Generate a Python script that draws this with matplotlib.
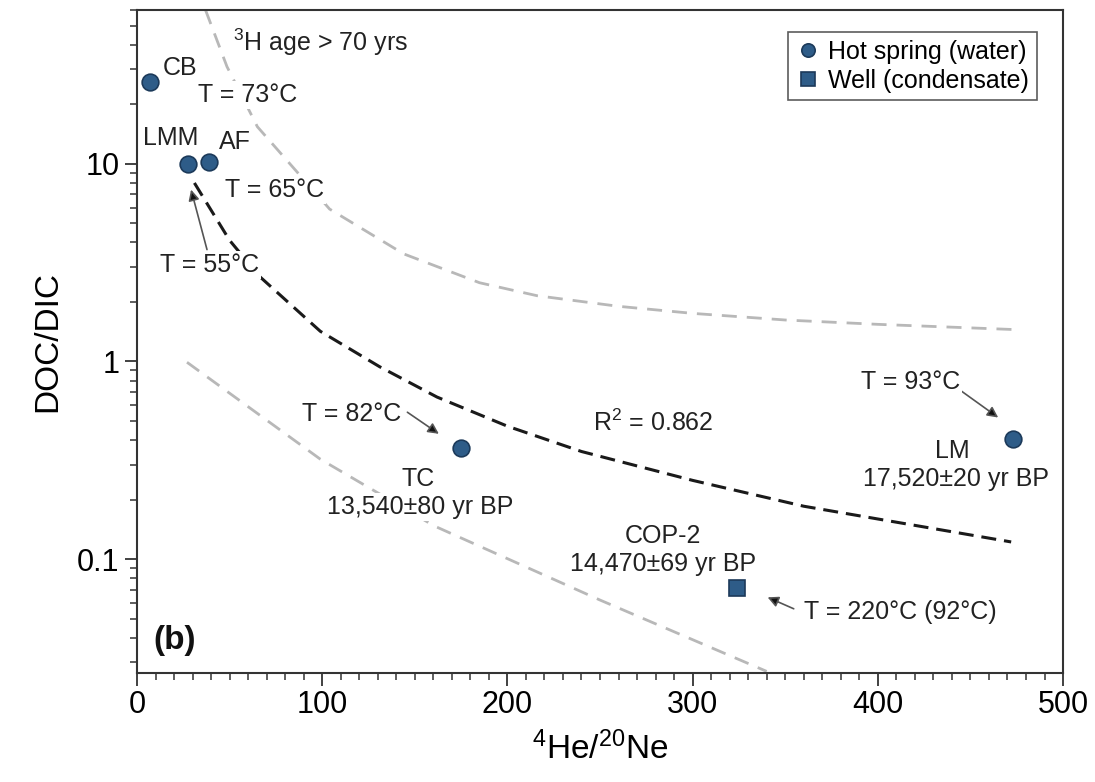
import matplotlib
matplotlib.use('Agg')
import matplotlib.pyplot as plt

plt.rcParams['font.family'] = ['Liberation Sans', 'DejaVu Sans']
plt.rcParams['mathtext.fontset'] = 'custom'
plt.rcParams['mathtext.rm'] = 'Liberation Sans'
plt.rcParams['mathtext.it'] = 'Liberation Sans:italic'

# samples (4He/20Ne, DOC/DIC)
spring_names = ["CB", "LMM", "AF", "TC", "LM"]
spring_he_ne = [7, 27.5, 39, 175, 473]
spring_doc_dic = [25.9, 10.0, 10.2, 0.365, 0.405]

well_names = ["COP-2"]
well_he_ne = [324]
well_doc_dic = [0.071]

# regression curve
fit_x = [31, 50, 66, 99, 131, 162, 200, 240, 300, 360, 420, 472]
fit_y = [8.0, 4.1, 2.7, 1.42, 0.94, 0.66, 0.47, 0.35, 0.25, 0.185, 0.148, 0.122]

# upper / lower gray bounds
upper_x = [37, 48.6, 65, 104, 144, 185, 216, 260, 300, 350, 400, 473]
upper_y = [60, 31, 15.4, 5.9, 3.5, 2.5, 2.15, 1.9, 1.75, 1.62, 1.54, 1.45]
lower_x = [27, 99, 160.5, 250, 340]
lower_y = [0.99, 0.32, 0.147, 0.062, 0.027]

blue = '#2e5c88'
edge = '#1c3a5a'

fig = plt.figure(figsize=(10.95, 7.82), dpi=100)
ax = fig.add_axes([0.1251, 0.1394, 0.8457, 0.8478])

ax.plot(upper_x, upper_y, color='#b8b8b8', lw=2.0, dashes=(5.4, 3.6), zorder=1)
ax.plot(lower_x, lower_y, color='#b8b8b8', lw=2.0, dashes=(5.4, 3.6), zorder=1)
ax.plot(fit_x, fit_y, color='#1a1a1a', lw=2.2, dashes=(4.9, 2.6), zorder=2)

ax.plot(spring_he_ne, spring_doc_dic, 'o', ms=12, mfc=blue, mec=edge, mew=1.2,
        ls='none', label='Hot spring (water)', zorder=4)
ax.plot(well_he_ne, well_doc_dic, 's', ms=12, mfc=blue, mec=edge, mew=1.2,
        ls='none', label='Well (condensate)', zorder=4)

ax.set_yscale('log')
ax.set_xlim(0, 500)
ax.set_ylim(0.0265, 60)
ax.set_yticks([0.1, 1, 10])
ax.set_yticklabels(['0.1', '1', '10'])
ax.set_xticks([0, 100, 200, 300, 400, 500])
ax.set_xticks(range(0, 501, 10), minor=True)

ax.tick_params(axis='both', which='major', labelsize=22, length=9, width=1.3,
               direction='out', color='#333333')
ax.tick_params(axis='both', which='minor', length=5, width=1.1,
               direction='out', color='#333333')
ax.tick_params(top=False, right=False, which='both')
for s in ax.spines.values():
    s.set_color('#333333')
    s.set_linewidth(1.5)

ax.set_xlabel('$^{4}$He/$^{20}$Ne', fontsize=24, labelpad=8)
ax.set_ylabel('DOC/DIC', fontsize=24, labelpad=10)

fs = 18
tc = '#222222'
box = dict(fc='white', ec='none', pad=1.5)


def label(x, y, s, ha='left'):
    ax.text(x, y, s, fontsize=fs, color=tc, ha=ha, va='center', bbox=box, zorder=3)


label(52, 41, '$^{3}$H age > 70 yrs')
label(14, 30.6, 'CB')
label(33, 22.3, 'T = 73°C')
label(3, 13.5, 'LMM')
label(44, 12.9, 'AF')
label(47.6, 7.4, 'T = 65°C')
label(152, 0.254, 'TC', ha='center')
label(153, 0.183, '13,540±80 yr BP', ha='center')
label(246, 0.49, 'R$^{2}$ = 0.862')
label(440, 0.35, 'LM', ha='center')
label(442, 0.254, '17,520±20 yr BP', ha='center')
label(284, 0.131, 'COP-2', ha='center')
label(284, 0.094, '14,470±69 yr BP', ha='center')
ax.text(8.6, 0.0386, '(b)', fontsize=24, fontweight='bold', color='#111111', va='center')

# temperature arrows
arrow = dict(arrowstyle='-|>', color='#555555', fc='#111111', lw=1.2, mutation_scale=16,
             shrinkA=0, shrinkB=0)
ax.annotate('', xy=(29.2, 7.4), xytext=(37.8, 3.68), arrowprops=arrow)
label(12.4, 3.09, 'T = 55°C')

ax.annotate('', xy=(163, 0.43), xytext=(146, 0.553), arrowprops=arrow)
label(89, 0.54, 'T = 82°C')

ax.annotate('', xy=(465, 0.52), xytext=(444, 0.72), arrowprops=arrow)
label(391, 0.79, 'T = 93°C')

ax.annotate('', xy=(340.5, 0.064), xytext=(354.6, 0.056), arrowprops=arrow)
label(360, 0.054, 'T = 220°C (92°C)')

leg = ax.legend(loc='upper right', fontsize=fs, frameon=True, fancybox=False,
                handletextpad=0.3, borderpad=0.3, labelspacing=0.2,
                handlelength=1.0, markerscale=0.8, bbox_to_anchor=(0.985, 0.985))
leg.get_frame().set_edgecolor('#333333')
leg.get_frame().set_linewidth(1.2)

fig.savefig('out.png', dpi=100, facecolor='white')
